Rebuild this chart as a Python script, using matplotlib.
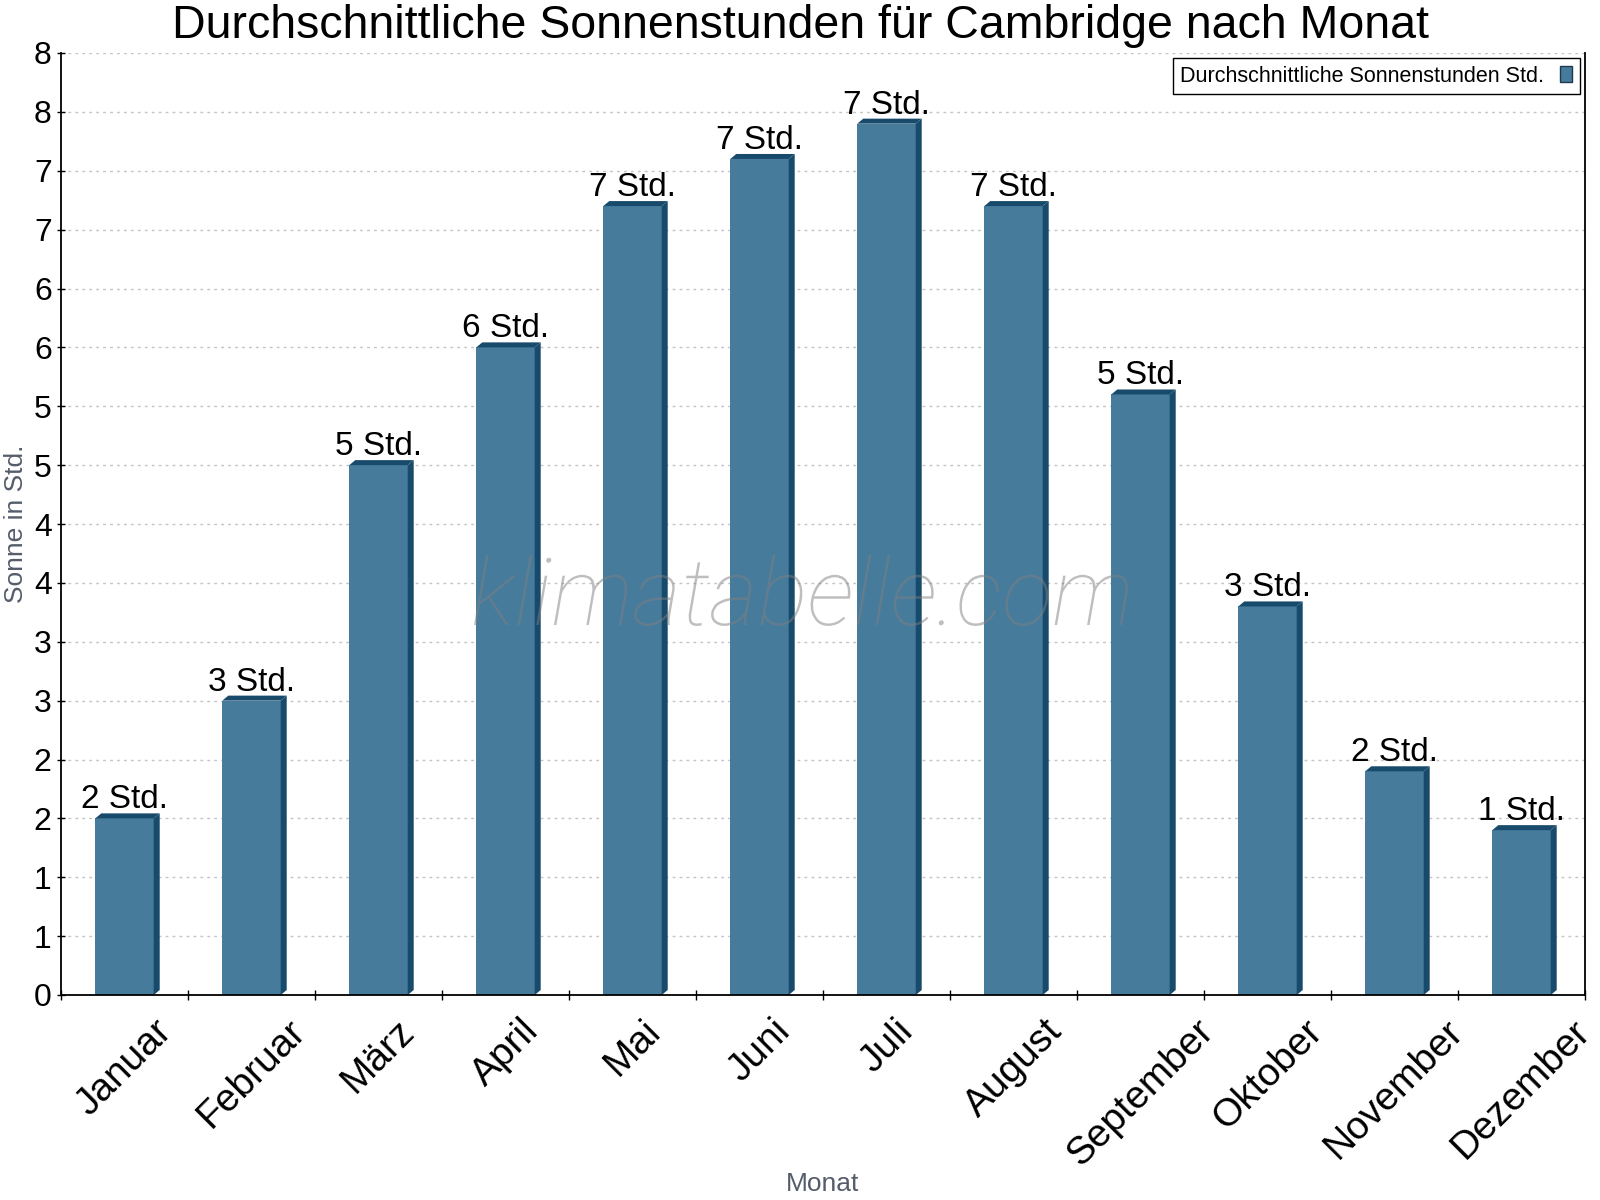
import numpy as np
from matplotlib import pyplot as plt
from matplotlib.font_manager import FontProperties
from matplotlib.patches import PathPatch, Polygon, Rectangle
from matplotlib.textpath import TextPath
from matplotlib.transforms import Affine2D
from matplotlib.ticker import FixedLocator, FuncFormatter

plt.rcParams["font.family"] = ["Liberation Sans", "DejaVu Sans"]

months = [
    "Januar", "Februar", "März", "April", "Mai", "Juni",
    "Juli", "August", "September", "Oktober", "November", "Dezember",
]
sun_hours = [1.5, 2.5, 4.5, 5.5, 6.7, 7.1, 7.4, 6.7, 5.1, 3.3, 1.9, 1.4]
y_ticks = np.arange(0, 8.01, 0.5)

title = "Durchschnittliche Sonnenstunden für Cambridge nach Monat"
series_name = "Durchschnittliche Sonnenstunden Std."
unit = "Std."

front_color = "#467b9c"
side_color = "#184a6c"


def round_half_up(v):
    return int(np.floor(v + 0.5))


fig = plt.figure(figsize=(16, 12), dpi=100)
ax = fig.add_axes([61 / 1600, 1 - 995 / 1200, 1524 / 1600, 942 / 1200])

x = np.arange(len(months))
bar_width = 0.46
dx = 6 / 127  # depth of the fake 3d side, in category units
dy = 5 / 117.75  # depth of the top face, in value units

ax.bar(x, sun_hours, width=bar_width, color=front_color, zorder=2)
for xi, v in zip(x, sun_hours):
    xl = xi - bar_width / 2
    xr = xi + bar_width / 2
    side = Polygon([(xr, 0), (xr + dx, dy), (xr + dx, v + dy), (xr, v)],
                   closed=True, color=side_color, lw=0, zorder=2)
    top = Polygon([(xl, v), (xl + dx, v + dy), (xr + dx, v + dy), (xr, v)],
                  closed=True, color=side_color, lw=0, zorder=2)
    ax.add_patch(side)
    ax.add_patch(top)
    ax.annotate(f"{round_half_up(v)} {unit}", (xi, v + dy), xytext=(0, 3.6),
                textcoords="offset points", ha="center", va="baseline",
                fontsize=24, color="black", zorder=5)

# watermark, stretched to the size it has in the original
fp = FontProperties(family="Roboto", style="italic", weight="light")
tp = TextPath((0, 0), "klimatabelle.com", size=100, prop=fp)
ext = tp.get_extents()
wm_tr = (Affine2D().translate(-ext.x0, 0)
         .scale(654 / ext.width, 70 / ext.y1)
         .translate(474, 1200 - 625))
wm = PathPatch(tp, facecolor="#7f7f7f", edgecolor="none", alpha=0.5,
               transform=wm_tr, zorder=4)
ax.add_patch(wm)

ax.set_xlim(-0.5, len(months) - 0.5)
ax.set_ylim(0, 8)

ax.yaxis.set_major_locator(FixedLocator(y_ticks))
ax.yaxis.set_major_formatter(FuncFormatter(lambda v, pos: str(round_half_up(v))))
ax.tick_params(axis="y", direction="inout", length=5.8, width=1, pad=3.8,
               labelsize=23)

ax.set_xticks(x)
ax.set_xticklabels(months, rotation=45, ha="center", va="top")
ax.set_xticks(np.arange(-0.5, len(months), 1), minor=True)
ax.tick_params(axis="x", which="major", length=0, pad=13, labelsize=28)
ax.tick_params(axis="x", which="minor", direction="inout", length=7, width=1)

ax.grid(axis="y", color="#c4c4c4", linestyle=(0, (2, 3)), linewidth=1, zorder=0)
ax.set_axisbelow(True)

ax.spines["top"].set_visible(False)
for s in ["left", "bottom", "right"]:
    ax.spines[s].set_linewidth(1.3)
    ax.spines[s].set_zorder(6)

fig.text(0.5, 1 - 38 / 1200, title, ha="center", va="baseline", fontsize=33.5)
fig.text(16 / 1600, 1 - 524 / 1200, "Sonne in Std.", rotation=90, ha="center",
         va="center", fontsize=19, color="#555d6a")
fig.text(823 / 1600, 1 - 1184 / 1200, "Monat", ha="center", va="center",
         fontsize=19, color="#555d6a")

handle = Rectangle((0, 0), 1, 1, facecolor=front_color, edgecolor="#1e3a4c", lw=1)
leg = fig.legend([handle], [series_name], loc="upper right",
                 bbox_to_anchor=(1580 / 1600, 1 - 58 / 1200), borderaxespad=0,
                 fontsize=15.5, markerfirst=False, handlelength=0.6,
                 handleheight=0.75, handletextpad=0.7, borderpad=0.35,
                 fancybox=False, shadow=False, framealpha=1)
leg.get_frame().set_edgecolor("black")
leg.get_frame().set_linewidth(1)

fig.savefig("out.png", dpi=100)
